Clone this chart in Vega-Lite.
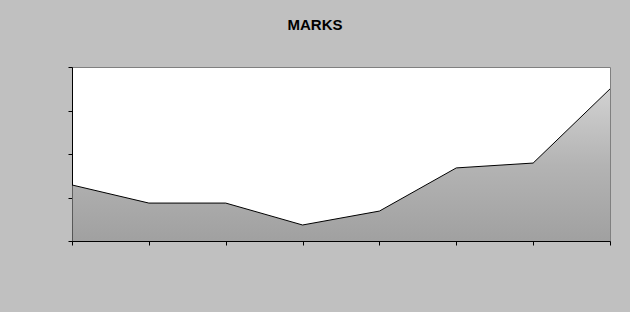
{
  "$schema": "https://vega.github.io/schema/vega-lite/v6.json",
  "width": 538,
  "height": 174,
  "autosize": {"type": "none"},
  "padding": {"left": 72, "top": 67, "right": 20, "bottom": 71},
  "background": "#C0C0C0",
  "title": {
    "text": "MARKS",
    "font": "Liberation Sans",
    "fontSize": 15,
    "fontWeight": "bold",
    "color": "black",
    "anchor": "middle",
    "dx": -26,
    "offset": 34
  },
  "data": {
    "values": [
      {"point": 1, "marks": 32.2},
      {"point": 2, "marks": 21.8},
      {"point": 3, "marks": 21.8},
      {"point": 4, "marks": 9.2},
      {"point": 5, "marks": 17.2},
      {"point": 6, "marks": 42.0},
      {"point": 7, "marks": 44.8},
      {"point": 8, "marks": 87.4}
    ]
  },
  "mark": {
    "type": "area",
    "line": {"color": "black", "strokeWidth": 1},
    "color": {
      "gradient": "linear",
      "x1": 0, "y1": 0, "x2": 0, "y2": 1,
      "stops": [
        {"offset": 0, "color": "#BEBEBE"},
        {"offset": 0.5, "color": "#939393"},
        {"offset": 1, "color": "#787878"}
      ]
    }
  },
  "encoding": {
    "x": {
      "field": "point",
      "type": "quantitative",
      "scale": {"domain": [1, 8], "nice": false},
      "axis": {
        "values": [1, 2, 3, 4, 5, 6, 7, 8],
        "labels": false,
        "title": null,
        "grid": false,
        "domainColor": "black",
        "tickColor": "black",
        "tickSize": 4
      }
    },
    "y": {
      "field": "marks",
      "type": "quantitative",
      "scale": {"domain": [0, 100], "nice": false},
      "axis": {
        "values": [0, 25, 50, 75, 100],
        "labels": false,
        "title": null,
        "grid": false,
        "domainColor": "black",
        "tickColor": "black",
        "tickSize": 4
      }
    }
  },
  "config": {
    "view": {"fill": "white", "stroke": "#808080", "strokeWidth": 1}
  }
}
